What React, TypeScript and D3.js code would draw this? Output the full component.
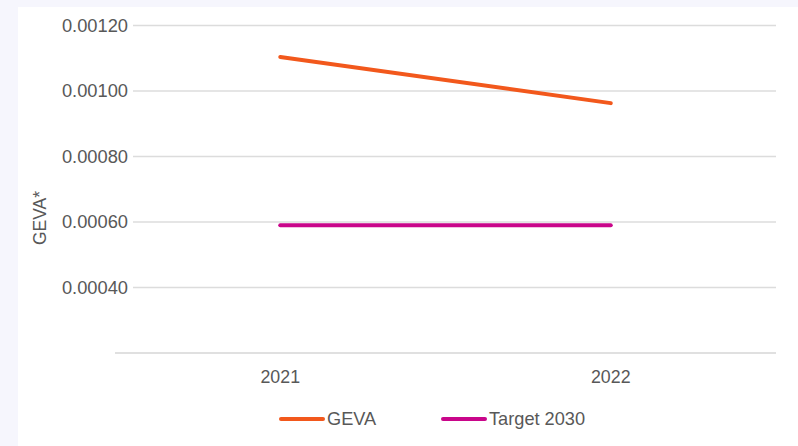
import React from "react";
import * as d3 from "d3";

const years = ["2021", "2022"];
const geva = [0.001104, 0.000963];
const target2030 = [0.00059, 0.00059];
const yTicks = [0.0004, 0.0006, 0.0008, 0.001, 0.0012];

const W = 798;
const H = 446;
const FONT = "Liberation Sans, Arial, sans-serif";

const App = () => {
  const x = d3.scaleBand().domain(years).range([115, 776]);
  const y = d3.scaleLinear().domain([0.0002, 0.0012]).range([353, 25.5]);
  const cx = (d: string) => (x(d) as number) + x.bandwidth() / 2;

  const line = d3
    .line<number>()
    .x((_, i) => cx(years[i]))
    .y((d) => y(d));

  const series = [
    { name: "GEVA", values: geva, color: "#f2581c", lx: 281 },
    { name: "Target 2030", values: target2030, color: "#c9068a", lx: 443 },
  ];

  return (
    <svg
      width={W}
      height={H}
      style={{ position: "absolute", left: 0, top: 0 }}
      fontFamily={FONT}
    >
      <rect width={W} height={H} fill="#f6f6fd" />
      <rect x={18} y={7} width={W - 18} height={H - 7} fill="#fff" />

      {yTicks.map((t) => (
        <g key={t}>
          <line x1={133} x2={776} y1={y(t)} y2={y(t)} stroke="#dcdcdc" strokeWidth={1.3} />
          <text x={128} y={y(t)} dy="0.35em" textAnchor="end" fontSize={18.3} fill="#585858">
            {d3.format(".5f")(t)}
          </text>
        </g>
      ))}
      <line x1={115} x2={776} y1={y(0.0002)} y2={y(0.0002)} stroke="#d6d6d6" strokeWidth={1.3} />

      {years.map((yr) => (
        <text key={yr} x={cx(yr)} y={383} textAnchor="middle" fontSize={17.8} fill="#585858">
          {yr}
        </text>
      ))}

      <text
        transform={`translate(46, 218) rotate(-90)`}
        textAnchor="middle"
        fontSize={17.5}
        fill="#585858"
      >
        GEVA*
      </text>

      {series.map((s) => (
        <path
          key={s.name}
          d={line(s.values) || ""}
          fill="none"
          stroke={s.color}
          strokeWidth={4}
          strokeLinecap="round"
        />
      ))}

      {series.map((s) => (
        <g key={s.name + "-legend"}>
          <line
            x1={s.lx}
            x2={s.lx + 42}
            y1={419}
            y2={419}
            stroke={s.color}
            strokeWidth={4}
            strokeLinecap="round"
          />
          <text x={s.lx + 46} y={425} fontSize={18.2} fill="#585858">
            {s.name}
          </text>
        </g>
      ))}
    </svg>
  );
};

export default App;
